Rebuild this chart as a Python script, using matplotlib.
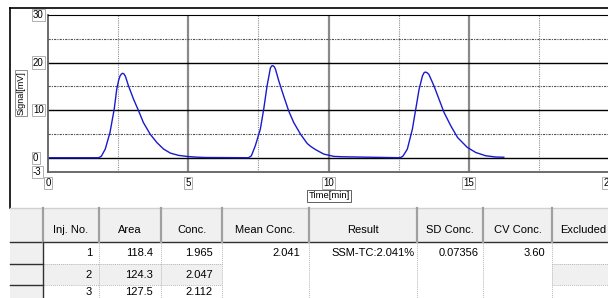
import matplotlib
matplotlib.use("Agg")
import matplotlib.pyplot as plt
from matplotlib.patches import Rectangle
from matplotlib.transforms import blended_transform_factory

plt.rcParams['font.family'] = ['Liberation Sans', 'DejaVu Sans']

# chromatogram trace (time [min], signal [mV])
time_min = [0.0, 1.80, 1.90, 2.04, 2.21, 2.36, 2.45, 2.52, 2.57, 2.62, 2.66, 2.71,
            2.76, 2.87, 3.05, 3.23, 3.40, 3.64, 3.88, 4.12, 4.36, 4.65, 4.96, 5.30,
            5.60, 7.15, 7.25, 7.39, 7.57, 7.69, 7.81, 7.93, 7.98, 8.02, 8.07, 8.11,
            8.23, 8.40, 8.58, 8.76, 9.00, 9.24, 9.36, 9.54, 9.83, 10.19, 10.50,
            12.55, 12.65, 12.81, 12.99, 13.11, 13.23, 13.35, 13.41, 13.46, 13.52,
            13.58, 13.76, 13.94, 14.12, 14.36, 14.60, 14.95, 15.25, 15.60, 15.96, 16.25]
signal_mv = [0.0, 0.0, 0.3, 1.8, 5.3, 10.2, 14.4, 16.3, 17.2, 17.6, 17.75, 17.6,
             17.1, 15.1, 12.3, 9.85, 7.4, 4.97, 3.2, 1.82, 0.98, 0.5, 0.27, 0.12,
             0.05, 0.0, 0.4, 2.5, 6.0, 10.2, 15.1, 18.9, 19.3, 19.35, 19.1, 18.6,
             16.1, 13.0, 9.85, 7.4, 4.97, 3.0, 2.4, 1.7, 0.77, 0.28, 0.2,
             0.0, 0.3, 1.8, 6.0, 10.2, 14.4, 17.2, 17.9, 18.0, 17.85,
             17.5, 15.1, 12.3, 9.5, 6.7, 4.26, 2.16, 1.1, 0.42, 0.15, 0.1]

x_tick_vals = [0, 5, 10, 15, 20]
y_tick_vals = [30, 20, 10, 0, -3]

# result table
col_names = ["Inj. No.", "Area", "Conc.", "Mean Conc.", "Result",
             "SD Conc.", "CV Conc.", "Excluded"]
inj_no = [1, 2, 3]
area = [118.4, 124.3, 127.5]
conc = [1.965, 2.047, 2.112]
mean_conc = "2.041"
result = "SSM-TC:2.041%"
sd_conc = "0.07356"
cv_conc = "3.60"

W, H = 608, 298
fig = plt.figure(figsize=(W / 100, H / 100), dpi=100)
fig.patch.set_facecolor("white")

# full-figure pixel overlay for frame and table
ov = fig.add_axes([0, 0, 1, 1], zorder=0)
ov.set_xlim(0, W)
ov.set_ylim(H, 0)
ov.axis("off")

# chart axes
ax_l, ax_t, ax_r, ax_b = 48, 15, 609, 172
ax = fig.add_axes([ax_l / W, (H - ax_b) / H, (ax_r - ax_l) / W, (ax_b - ax_t) / H], zorder=2)
ax.set_xlim(0, 20)
ax.set_ylim(-3, 30)
ax.set_xticks([5, 10, 15])
ax.set_xticks([2.5, 7.5, 12.5, 17.5], minor=True)
ax.set_yticks([0, 10, 20])
ax.set_yticks([5, 15, 25], minor=True)
ax.tick_params(which="both", length=0, labelbottom=False, labelleft=False)
ax.grid(which="major", axis="y", color="black", lw=1.0, ls="-")
ax.grid(which="minor", axis="y", color="#505050", lw=0.8, ls=(0, (2, 1, 1, 1)))
ax.grid(which="major", axis="x", color="#8a8a8a", lw=1.6, ls="-")
ax.grid(which="minor", axis="x", color="#909090", lw=0.8, ls=(0, (1, 1)))
ax.set_axisbelow(True)
for s in ["left", "bottom"]:
    ax.spines[s].set_color("#606060")
    ax.spines[s].set_linewidth(1.3)
ax.spines["top"].set_color("black")
ax.spines["right"].set_visible(False)

ax.plot(time_min, signal_mv, color="#1a1acc", lw=1.0)

box = dict(boxstyle="square,pad=0.12", fc="white", ec="#b0b0b0", lw=0.7)
ty = blended_transform_factory(ov.transData, ax.transData)
for v in y_tick_vals:
    ov.text(33, v, str(v), transform=ty, ha="left", va="center", fontsize=7,
            bbox=box, clip_on=False)
tx = blended_transform_factory(ax.transData, ov.transData)
for v in x_tick_vals:
    ov.text(v, 183, str(v), transform=tx, ha="center", va="center", fontsize=7,
            bbox=box, clip_on=False)

ov.text(21, 93, "Signal[mV]", rotation=90, ha="center", va="center", fontsize=6.5,
        bbox=dict(boxstyle="square,pad=0.12", fc="white", ec="#909090", lw=0.7))
ov.text(329, 196, "Time[min]", ha="center", va="center", fontsize=6.8,
        bbox=dict(boxstyle="square,pad=0.12", fc="white", ec="#606060", lw=0.7))

# outer frame
ov.plot([10, W], [8, 8], color="black", lw=1.2)
ov.plot([10, 10], [8, 208], color="black", lw=1.2)

# table layout
col_x = [10, 42.7, 99, 161, 222, 309, 417, 483, 552, 640]
row_y = [208, 242, 264, 285, 307]
gray = "#f0f0f0"

ov.add_patch(Rectangle((10, 208), W - 10, 34, fc=gray, ec="none"))
ov.add_patch(Rectangle((10, 242), col_x[1] - 10, 70, fc=gray, ec="none"))
for c in [1, 2, 3, 8]:
    ov.add_patch(Rectangle((col_x[c], row_y[2]), col_x[c + 1] - col_x[c],
                           row_y[3] - row_y[2], fc=gray, ec="none"))

ov.plot([10, W], [208, 208], color="#d0d0d0", lw=1.0)
ov.plot([10, W], [242, 242], color="#303030", lw=1.0)
for y in row_y[2:4]:
    ov.plot([10, col_x[1]], [y, y], color="#303030", lw=1.0)
    for c in [1, 2, 3, 8]:
        ov.plot([col_x[c], col_x[c + 1]], [y, y], color="#b8b8b8", lw=0.7,
                ls=(0, (1, 1)))
for i, x in enumerate(col_x[1:9]):
    ov.plot([x, x], [208, 242], color="#a0a0a0", lw=1.6)
    if i == 0:
        ov.plot([x, x], [242, H], color="#303030", lw=1.0)
    else:
        ov.plot([x, x], [242, H], color="#b8b8b8", lw=0.7, ls=(0, (1, 1)))

for c, name in enumerate(col_names):
    cx = (col_x[c + 1] + col_x[c + 2]) / 2 if c < 7 else col_x[8] + 8
    ov.text(cx, 230, name, ha="center" if c < 7 else "left", va="center", fontsize=8)

row_cy = [253, 274.5, 292]
for r in range(3):
    ov.text(col_x[2] - 7, row_cy[r], str(inj_no[r]), ha="right", va="center", fontsize=8)
    ov.text(col_x[3] - 8, row_cy[r], f"{area[r]:.1f}", ha="right", va="center", fontsize=8)
    ov.text(col_x[4] - 9, row_cy[r], f"{conc[r]:.3f}", ha="right", va="center", fontsize=8)
ov.text(col_x[5] - 9, row_cy[0], mean_conc, ha="right", va="center", fontsize=8)
ov.text(col_x[6] - 2, row_cy[0], result, ha="right", va="center", fontsize=8)
ov.text(col_x[7] - 4, row_cy[0], sd_conc, ha="right", va="center", fontsize=8)
ov.text(col_x[8] - 7, row_cy[0], cv_conc, ha="right", va="center", fontsize=8)

fig.savefig("out.png", dpi=100, facecolor="white")
